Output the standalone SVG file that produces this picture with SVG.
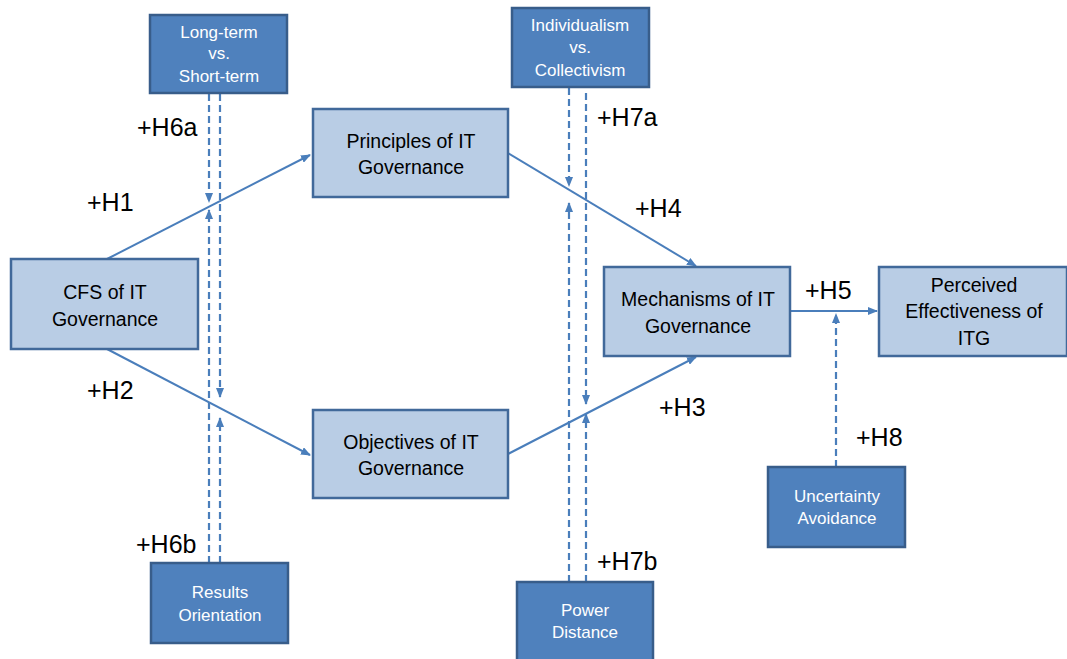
<svg xmlns="http://www.w3.org/2000/svg" width="1067" height="659" viewBox="0 0 1067 659">
<style>
.lt{fill:#b9cde5;stroke:#41699a;stroke-width:2.5}
.dk{fill:#4f81bd;stroke:#385d8a;stroke-width:2.5}
.tl{font-family:"Liberation Sans",Arial,sans-serif;font-size:19.5px;fill:#000;text-anchor:middle}
.tw{font-family:"Liberation Sans",Arial,sans-serif;font-size:17px;fill:#fff;text-anchor:middle}
.lb{font-family:"Liberation Sans",Arial,sans-serif;font-size:25px;fill:#000}
.c{stroke:#4a7ebb;stroke-width:2;fill:none}
.d{stroke:#4a7ebb;stroke-width:2.2;fill:none;stroke-dasharray:7,4}
</style>
<defs>
<marker id="ah" markerWidth="10" markerHeight="8" refX="9" refY="4" orient="auto" markerUnits="userSpaceOnUse">
<path d="M0,0 L10,4 L0,8 z" fill="#4a7ebb"/>
</marker>
</defs>
<rect width="1067" height="659" fill="#fff"/>
<g id="connectors">
<line class="c" x1="107" y1="259" x2="310" y2="155" marker-end="url(#ah)"/>
<line class="c" x1="107" y1="349" x2="310" y2="455" marker-end="url(#ah)"/>
<line class="c" x1="508" y1="153" x2="696" y2="266" marker-end="url(#ah)"/>
<line class="c" x1="508" y1="454" x2="696" y2="357" marker-end="url(#ah)"/>
<line class="c" x1="790" y1="311" x2="877" y2="311" marker-end="url(#ah)"/>
<line class="d" x1="209" y1="94" x2="209" y2="202" marker-end="url(#ah)"/>
<line class="d" x1="220" y1="94" x2="220" y2="397" marker-end="url(#ah)"/>
<line class="d" x1="209" y1="563" x2="209" y2="210" marker-end="url(#ah)"/>
<line class="d" x1="220" y1="563" x2="220" y2="418" marker-end="url(#ah)"/>
<line class="d" x1="569" y1="88" x2="569" y2="186" marker-end="url(#ah)"/>
<line class="d" x1="586" y1="93" x2="586" y2="404" marker-end="url(#ah)"/>
<line class="d" x1="569" y1="582" x2="569" y2="203" marker-end="url(#ah)"/>
<line class="d" x1="586" y1="582" x2="586" y2="414" marker-end="url(#ah)"/>
<line class="d" x1="836" y1="467" x2="836" y2="314" marker-end="url(#ah)"/>
</g>
<g id="longterm"><rect class="dk" x="150" y="15" width="137" height="78"/>
<text class="tw" x="219" y="38">Long-term</text><text class="tw" x="219" y="59">vs.</text><text class="tw" x="219" y="82">Short-term</text></g>
<g id="individualism"><rect class="dk" x="512" y="8" width="137" height="79"/>
<text class="tw" x="580" y="31">Individualism</text><text class="tw" x="580" y="53">vs.</text><text class="tw" x="580" y="76">Collectivism</text></g>
<g id="cfs"><rect class="lt" x="11" y="259" width="187" height="90"/>
<text class="tl" x="105" y="299">CFS of IT</text><text class="tl" x="105" y="326">Governance</text></g>
<g id="principles"><rect class="lt" x="313" y="109" width="195" height="88"/>
<text class="tl" x="411" y="148">Principles of IT</text><text class="tl" x="411" y="174">Governance</text></g>
<g id="objectives"><rect class="lt" x="313" y="410" width="195" height="88"/>
<text class="tl" x="411" y="449">Objectives of IT</text><text class="tl" x="411" y="475">Governance</text></g>
<g id="mechanisms"><rect class="lt" x="604" y="267" width="186" height="89"/>
<text class="tl" x="698" y="306">Mechanisms of IT</text><text class="tl" x="698" y="333">Governance</text></g>
<g id="perceived"><rect class="lt" x="879" y="267" width="188" height="89"/>
<text class="tl" x="974" y="292">Perceived</text><text class="tl" x="974" y="318">Effectiveness of</text><text class="tl" x="974" y="345">ITG</text></g>
<g id="results"><rect class="dk" x="151" y="563" width="137" height="80"/>
<text class="tw" x="220" y="598">Results</text><text class="tw" x="220" y="621">Orientation</text></g>
<g id="power"><rect class="dk" x="517" y="582" width="136" height="80"/>
<text class="tw" x="585" y="616">Power</text><text class="tw" x="585" y="638">Distance</text></g>
<g id="uncertainty"><rect class="dk" x="768" y="467" width="137" height="80"/>
<text class="tw" x="837" y="502">Uncertainty</text><text class="tw" x="837" y="524">Avoidance</text></g>
<g id="labels">
<text class="lb" x="137" y="136">+H6a</text>
<text class="lb" x="87" y="211">+H1</text>
<text class="lb" x="87" y="399">+H2</text>
<text class="lb" x="136" y="553">+H6b</text>
<text class="lb" x="597" y="126">+H7a</text>
<text class="lb" x="635" y="217">+H4</text>
<text class="lb" x="659" y="416">+H3</text>
<text class="lb" x="805" y="299">+H5</text>
<text class="lb" x="856" y="446">+H8</text>
<text class="lb" x="597" y="570">+H7b</text>
</g>
</svg>
